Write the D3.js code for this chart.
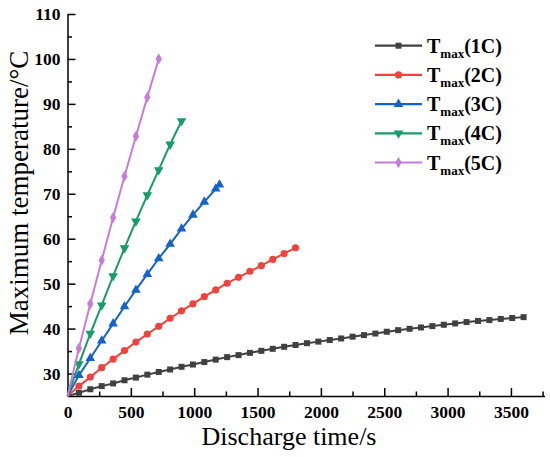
<!DOCTYPE html>
<html>
<head>
<meta charset="utf-8">
<script src="https://cdn.jsdelivr.net/npm/d3@7"></script>
<style>
  html, body { margin: 0; padding: 0; background: #fff; }
  svg { display: block; }
</style>
</head>
<body>
<svg id="chart" width="550" height="457"></svg>
<script>
// ─── Data ───────────────────────────────────────────────────────────────────
const time1C = d3.range(0, 3601, 90);
const temp1C = [25.0, 25.7, 26.5, 27.2, 27.8, 28.5, 29.1, 29.75, 30.35, 30.9,
  31.5, 32.0, 32.55, 33.1, 33.65, 34.1, 34.6, 35.05, 35.5, 35.95,
  36.35, 36.75, 37.1, 37.45, 37.8, 38.2, 38.55, 38.9, 39.3, 39.65,
  39.95, 40.25, 40.55, 40.85, 41.15, 41.45, 41.7, 41.9, 42.15, 42.35, 42.55];

const time2C = d3.range(0, 1801, 90);
const temp2C = [25.0, 27.2, 29.2, 31.3, 33.2, 35.1, 37.0, 38.8, 40.5, 42.3,
  43.95, 45.5, 47.1, 48.6, 50.1, 51.4, 52.75, 54.0, 55.4, 56.7, 58.0];

const time3C = [0, 90, 180, 270, 360, 450, 540, 630, 720, 810, 900, 990, 1080, 1170, 1200];
const temp3C = [25.0, 29.6, 33.4, 37.3, 41.1, 44.9, 48.6, 52.1, 55.6, 58.8, 62.2, 65.3, 68.2, 71.1, 72.0];

const time4C = d3.range(0, 901, 90);
const temp4C = [25.0, 32.1, 38.9, 45.2, 51.7, 57.9, 63.9, 69.7, 75.3, 81.0, 86.2];

const time5C = d3.range(0, 721, 90);
const temp5C = [25.0, 35.6, 45.5, 55.2, 64.7, 73.9, 82.8, 91.5, 100.0];

const seriesNames = ['1C', '2C', '3C', '4C', '5C'];
const xTicks = [0, 500, 1000, 1500, 2000, 2500, 3000, 3500];
const xMinorTicks = [250, 750, 1250, 1750, 2250, 2750, 3250, 3750];
const yTicks = [30, 40, 50, 60, 70, 80, 90, 100, 110];
const yMinorTicks = [35, 45, 55, 65, 75, 85, 95, 105];

// ─── Styling ────────────────────────────────────────────────────────────────
const colors = ['#404040', '#f2423e', '#1463c8', '#149c69', '#c57dda'];
const symbols = [
  { type: d3.symbolSquare, size: 36, rot: 0 },
  { type: d3.symbolCircle, size: 40, rot: 0 },
  { type: d3.symbolTriangle, size: 40, rot: 0 },
  { type: d3.symbolTriangle, size: 40, rot: 180 },
  { type: d3.symbolDiamond, size: 36, rot: 0 },
];
const FONT = "'Liberation Serif', 'Times New Roman', serif";

const series = [
  [time1C, temp1C], [time2C, temp2C], [time3C, temp3C], [time4C, temp4C], [time5C, temp5C],
].map(([t, v], i) => ({ name: seriesNames[i], points: t.map((x, j) => ({ x, y: v[j] })) }));

// ─── Scales ─────────────────────────────────────────────────────────────────
const x = d3.scaleLinear().domain([0, 3765]).range([67.5, 544.5]);
const y = d3.scaleLinear().domain([25, 110]).range([396, 14]);

const svg = d3.select('#chart');

// ── Axes (ticks point inward) ───────────────────────────────────────────────
const xAxis = svg.append('g')
  .attr('transform', `translate(0,${y(25)})`)
  .call(d3.axisBottom(x).tickValues(xTicks).tickFormat(d3.format('d'))
    .tickSize(-8).tickSizeOuter(0).tickPadding(10));
svg.append('g')
  .attr('transform', `translate(0,${y(25)})`)
  .call(d3.axisBottom(x).tickValues(xMinorTicks).tickSize(-4.5).tickFormat(''))
  .call(g => g.select('.domain').remove());

const yAxis = svg.append('g')
  .attr('transform', `translate(${x(0)},0)`)
  .call(d3.axisLeft(y).tickValues(yTicks).tickFormat(d3.format('d'))
    .tickSize(-8).tickSizeOuter(0).tickPadding(7));
svg.append('g')
  .attr('transform', `translate(${x(0)},0)`)
  .call(d3.axisLeft(y).tickValues(yMinorTicks).tickSize(-4.5).tickFormat(''))
  .call(g => g.select('.domain').remove());

svg.selectAll('.domain, .tick line')
  .attr('stroke', '#000')
  .attr('stroke-width', 1.5);
[xAxis, yAxis].forEach(g => g.selectAll('text')
  .attr('fill', '#000')
  .style('font-family', FONT)
  .style('font-weight', 'bold')
  .style('font-size', '17.5px'));

// ── Axis titles ─────────────────────────────────────────────────────────────
svg.append('text')
  .attr('x', 289)
  .attr('y', 445)
  .attr('text-anchor', 'middle')
  .style('font-family', FONT)
  .style('font-size', '26px')
  .text('Discharge time/s');

svg.append('text')
  .attr('transform', 'translate(28,193) rotate(-90)')
  .attr('text-anchor', 'middle')
  .style('font-family', FONT)
  .style('font-size', '27px')
  .text('Maximum temperature/°C');

// ── Lines & markers ─────────────────────────────────────────────────────────
const line = d3.line().x(d => x(d.x)).y(d => y(d.y));

const sg = svg.append('g')
  .selectAll('g')
  .data(series)
  .join('g');

sg.append('path')
  .attr('d', d => line(d.points))
  .attr('fill', 'none')
  .attr('stroke', (d, i) => colors[i])
  .attr('stroke-width', 2);

sg.each(function (d, i) {
  const sym = symbols[i];
  d3.select(this).selectAll('path.m')
    .data(d.points.slice(1))
    .join('path')
    .attr('class', 'm')
    .attr('d', d3.symbol().type(sym.type).size(sym.size))
    .attr('transform', p => `translate(${x(p.x)},${y(p.y)}) rotate(${sym.rot})`)
    .attr('fill', colors[i]);
});

// ── Legend ──────────────────────────────────────────────────────────────────
const legend = svg.append('g')
  .selectAll('g')
  .data(series)
  .join('g')
  .attr('transform', (d, i) => `translate(375,${45.7 + i * 29.2})`);

legend.append('line')
  .attr('x1', 0).attr('x2', 47)
  .attr('stroke', (d, i) => colors[i])
  .attr('stroke-width', 2.2);

legend.append('path')
  .attr('d', (d, i) => d3.symbol().type(symbols[i].type).size(symbols[i].size)())
  .attr('transform', (d, i) => `translate(23.5,0) rotate(${symbols[i].rot})`)
  .attr('fill', (d, i) => colors[i]);

const lt = legend.append('text')
  .attr('x', 52)
  .attr('y', 7)
  .style('font-family', FONT)
  .style('font-weight', 'bold')
  .style('font-size', '20px');
lt.append('tspan').text('T');
lt.append('tspan').attr('dy', 5).style('font-size', '13px').text('max');
lt.append('tspan').attr('dy', -5).text(d => `(${d.name})`);
</script>
</body>
</html>
